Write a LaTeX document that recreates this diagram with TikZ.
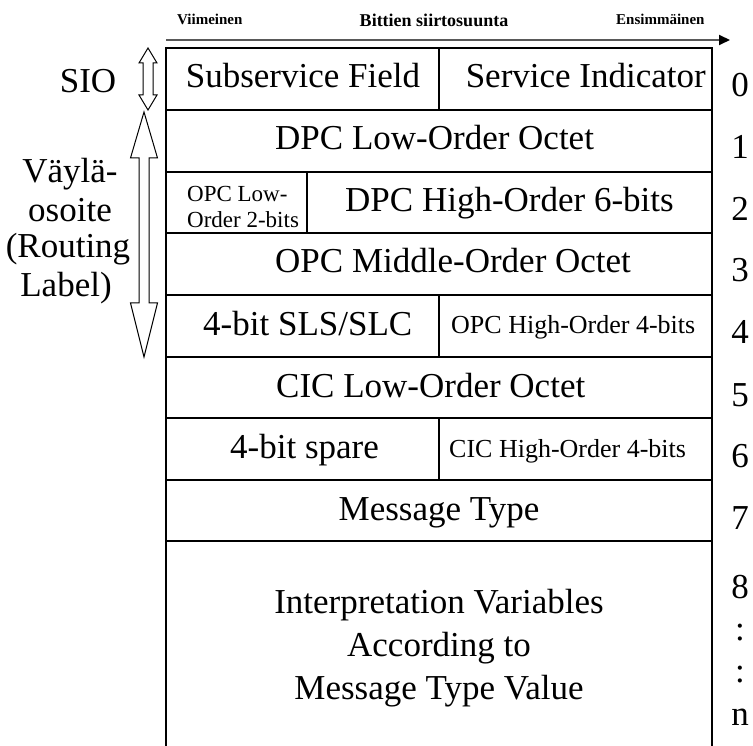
\documentclass[tikz,border=0pt]{standalone}
\usepackage{fontspec}
\setmainfont{Liberation Serif}
\usetikzlibrary{arrows.meta}
\begin{document}
\begin{tikzpicture}[x=1pt,y=-1pt,
  grid/.style={line width=1.2pt},
  big/.style={font=\fontsize{35}{42}\selectfont, inner sep=0pt, anchor=base},
  mid/.style={font=\fontsize{26}{30}\selectfont, inner sep=0pt, anchor=base west},
  sml/.style={font=\fontsize{23}{26}\selectfont, inner sep=0pt, anchor=base west},
  hdr/.style={font=\bfseries\fontsize{15}{18}\selectfont, inner sep=0pt, anchor=base west},
  blockarrow/.style={draw, line width=1pt, fill=white, line join=miter}]
\useasboundingbox (0,0) rectangle (753,746);

% header arrow
\coordinate (arrS) at (166,40);
\coordinate (arrE) at (730,40);
\draw[line width=2pt, black!65, -{Triangle[length=11pt,width=10pt,color=black,fill=black]}] (arrS) -- (arrE);
\node[hdr] (last) at (177,25) {Viimeinen};
\node[hdr, anchor=base, font=\bfseries\fontsize{18}{21}\selectfont] (dir) at (434,27) {Bittien siirtosuunta};
\node[hdr] (first) at (616,25) {Ensimmäinen};

% table grid
\draw[grid] (166,746) -- (166,48) -- (712,48) -- (712,746);
\foreach \y in {110,172,233,295,357,418,480,541}
  \draw[grid] (166,\y) -- (712,\y);
\draw[grid] (439,48) -- (439,110);
\draw[grid] (307,172) -- (307,233);
\draw[grid] (439,295) -- (439,357);
\draw[grid] (439,418) -- (439,480);

% cell texts
\node[big] (ssf) at (303,88) {Subservice Field};
\node[big, anchor=base east] (si) at (706,88) {Service Indicator};
\node[big, anchor=base west] (dpcl) at (275,150) {DPC Low-Order Octet};
\node[sml] (opcl1) at (187,202) {OPC Low-};
\node[sml] (opcl2) at (187,228) {Order 2-bits};
\node[big, anchor=base west] (dpch) at (345,212) {DPC High-Order 6-bits};
\node[big, anchor=base west] (opcm) at (275,273) {OPC Middle-Order Octet};
\node[big, anchor=base west] (sls) at (203,335) {4-bit SLS/SLC};
\node[mid] (opch) at (451,334) {OPC High-Order 4-bits};
\node[big, anchor=base west] (cicl) at (276,397) {CIC Low-Order Octet};
\node[big, anchor=base west] (spare) at (230,458) {4-bit spare};
\node[mid] (cich) at (449,457) {CIC High-Order 4-bits};
\node[big] (mt) at (439,520) {Message Type};
\node[big] (iv1) at (439,613) {Interpretation Variables};
\node[big] (iv2) at (439,656) {According to};
\node[big] (iv3) at (439,699) {Message Type Value};

% octet numbers
\foreach \n/\y in {0/97,1/159,2/221,3/282,4/344,5/406,6/467,7/529,8/598}
  \node[big] (oct\n) at (740,\y) {\n};
\node[big] (dots1) at (740,640) {:};
\node[big] (dots2) at (740,682) {:};
\node[big] (octn) at (740,725) {n};

% left labels
\node[big] (sio) at (88,93) {SIO};
\node[big] (rl1) at (70,183) {Väylä-};
\node[big] (rl2) at (70,222) {osoite};
\node[big] (rl3) at (68,258) {(Routing};
\node[big] (rl4) at (66,297) {Label)};

% block arrows
\draw[blockarrow] (148,48) -- (157,63) -- (153,63) -- (153,95) -- (157,95) -- (148,110)
  -- (139,95) -- (143,95) -- (143,63) -- (139,63) -- cycle;
\draw[blockarrow] (144,112) -- (157.5,158) -- (149,158) -- (149,303) -- (157.5,303) -- (144,357)
  -- (130.5,303) -- (139,303) -- (139,158) -- (130.5,158) -- cycle;
\end{tikzpicture}
\end{document}
